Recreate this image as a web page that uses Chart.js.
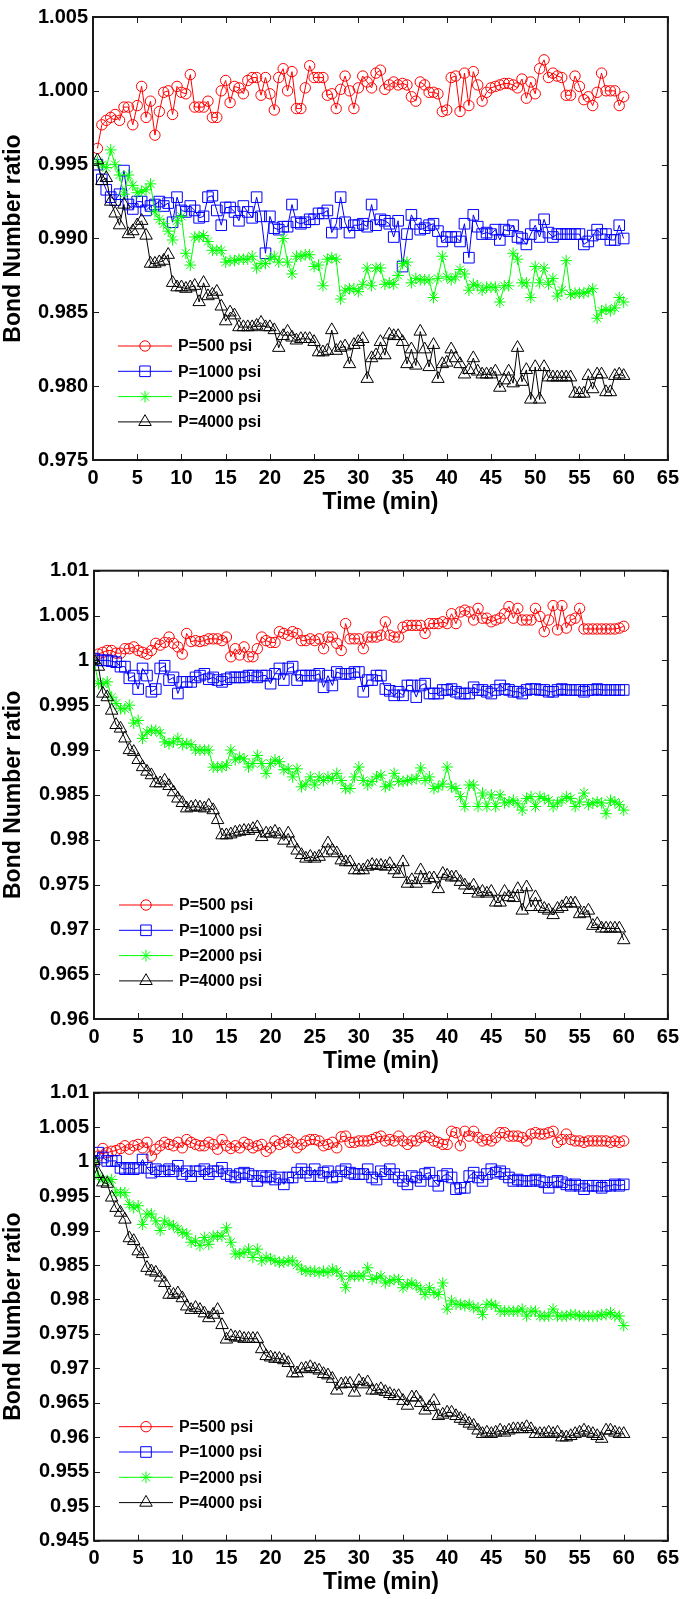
<!DOCTYPE html>
<html><head><meta charset="utf-8">
<script src="https://cdn.jsdelivr.net/npm/chart.js@4.4.1/dist/chart.umd.min.js"></script>
<style>
html,body{margin:0;padding:0;background:#fff;}
#wrap{position:relative;width:685px;height:1599px;overflow:hidden;}
canvas{position:absolute;left:0;}
</style></head><body>
<div id="wrap">
<canvas id="c1" width="685" height="520" style="top:0px"></canvas>
<canvas id="c2" width="685" height="557" style="top:518px"></canvas>
<canvas id="c3" width="685" height="524" style="top:1075px"></canvas>
</div>
<script>
// ---------- labels / ticks ----------
const SERIES_LABELS = ['P=500 psi', 'P=1000 psi', 'P=2000 psi', 'P=4000 psi'];
const X_TITLE = 'Time (min)';
const Y_TITLE = 'Bond Number ratio';
const X_TICKS = [0, 5, 10, 15, 20, 25, 30, 35, 40, 45, 50, 55, 60, 65];
const Y1_TICKS = [0.975, 0.980, 0.985, 0.990, 0.995, 1.000, 1.005];
const Y2_TICKS = [0.96, 0.965, 0.97, 0.975, 0.98, 0.985, 0.99, 0.995, 1.0, 1.005, 1.01];
const Y3_TICKS = [0.945, 0.95, 0.955, 0.96, 0.965, 0.97, 0.975, 0.98, 0.985, 0.99, 0.995, 1.0, 1.005, 1.01];

// ---------- time stamps (min) ----------
const TIME_1 = Array.from({length: 120}, (_, i) => 0.5 + i * 0.5); // 0.5 ... 60
const TIME_2 = Array.from({length: 121}, (_, i) => i * 0.5);       // 0 ... 60
const TIME_3 = TIME_2;

// ---------- panel 1 ----------
const P1_500 = [0.9961,0.9977,0.9980,0.9982,0.9984,0.9980,0.9989,0.9989,0.9977,0.9990,
1.0003,0.9982,0.9993,0.9970,0.9986,0.9999,1.0000,0.9984,1.0003,0.9999,
0.9998,1.0011,0.9989,0.9989,0.9989,0.9993,0.9982,0.9982,1.0000,1.0007,
0.9992,1.0003,1.0002,0.9998,1.0007,1.0009,1.0009,0.9997,1.0009,0.9998,
0.9987,1.0009,1.0015,1.0000,1.0013,0.9988,0.9988,1.0002,1.0017,1.0009,
1.0009,1.0009,0.9997,0.9998,0.9988,1.0001,1.0010,1.0000,0.9988,1.0002,
1.0010,1.0006,1.0002,1.0012,1.0014,1.0001,1.0004,1.0006,1.0004,1.0005,
1.0004,0.9996,0.9993,1.0006,1.0004,0.9999,0.9999,0.9998,0.9986,0.9987,
1.0009,1.0010,0.9986,1.0012,0.9990,1.0013,1.0004,0.9993,0.9999,1.0002,
1.0003,1.0004,1.0005,1.0005,1.0004,1.0002,1.0008,0.9995,1.0006,0.9998,
1.0015,1.0021,1.0009,1.0012,1.0010,1.0009,0.9997,0.9997,1.0010,1.0003,
0.9994,0.9996,0.9990,0.9999,1.0012,1.0000,1.0000,1.0000,0.9990,0.9996];
const P1_1000 = [0.9950,0.9940,0.9933,0.9928,0.9926,0.9930,0.9946,0.9923,0.9920,0.9925,
0.9925,0.9919,0.9922,0.9923,0.9925,0.9922,0.9924,0.9911,0.9928,0.9919,
0.9918,0.9922,0.9919,0.9914,0.9915,0.9928,0.9929,0.9919,0.9909,0.9921,
0.9921,0.9918,0.9912,0.9922,0.9918,0.9914,0.9928,0.9915,0.9890,0.9915,
0.9907,0.9906,0.9908,0.9908,0.9923,0.9911,0.9910,0.9911,0.9913,0.9913,
0.9917,0.9917,0.9919,0.9904,0.9910,0.9928,0.9911,0.9904,0.9909,0.9909,
0.9910,0.9908,0.9923,0.9909,0.9913,0.9912,0.9910,0.9901,0.9912,0.9881,
0.9903,0.9916,0.9910,0.9906,0.9907,0.9909,0.9910,0.9905,0.9898,0.9901,
0.9901,0.9901,0.9898,0.9910,0.9887,0.9916,0.9908,0.9903,0.9904,0.9903,
0.9906,0.9899,0.9906,0.9905,0.9909,0.9901,0.9900,0.9896,0.9903,0.9909,
0.9901,0.9913,0.9904,0.9901,0.9903,0.9903,0.9903,0.9903,0.9903,0.9903,
0.9896,0.9898,0.9902,0.9906,0.9903,0.9903,0.9899,0.9899,0.9909,0.9900];
const P1_2000 = [0.9952,0.9950,0.9948,0.9960,0.9950,0.9943,0.9930,0.9943,0.9936,0.9931,
0.9932,0.9933,0.9937,0.9918,0.9913,0.9910,0.9905,0.9899,0.9912,0.9915,
0.9890,0.9882,0.9901,0.9901,0.9902,0.9898,0.9892,0.9892,0.9892,0.9884,
0.9885,0.9885,0.9886,0.9886,0.9886,0.9888,0.9880,0.9883,0.9883,0.9886,
0.9888,0.9884,0.9900,0.9884,0.9876,0.9888,0.9888,0.9889,0.9889,0.9881,
0.9882,0.9868,0.9886,0.9887,0.9886,0.9859,0.9865,0.9866,0.9866,0.9864,
0.9869,0.9880,0.9868,0.9880,0.9880,0.9869,0.9870,0.9869,0.9875,0.9883,
0.9884,0.9870,0.9873,0.9872,0.9872,0.9872,0.9860,0.9873,0.9888,0.9874,
0.9872,0.9874,0.9879,0.9876,0.9865,0.9869,0.9868,0.9865,0.9867,0.9867,
0.9867,0.9857,0.9868,0.9868,0.9890,0.9886,0.9870,0.9870,0.9860,0.9881,
0.9870,0.9880,0.9869,0.9873,0.9861,0.9865,0.9885,0.9862,0.9863,0.9863,
0.9863,0.9864,0.9866,0.9846,0.9851,0.9852,0.9851,0.9853,0.9860,0.9857];
const P1_4000 = [0.9953,0.9939,0.9941,0.9925,0.9917,0.9909,0.9923,0.9903,0.9905,0.9909,
0.9912,0.9902,0.9883,0.9883,0.9884,0.9885,0.9889,0.9870,0.9867,0.9867,
0.9866,0.9867,0.9868,0.9857,0.9870,0.9861,0.9862,0.9864,0.9854,0.9844,
0.9850,0.9848,0.9840,0.9840,0.9840,0.9840,0.9841,0.9843,0.9840,0.9840,
0.9838,0.9826,0.9834,0.9837,0.9833,0.9831,0.9832,0.9832,0.9832,0.9830,
0.9823,0.9823,0.9824,0.9838,0.9824,0.9826,0.9827,0.9815,0.9828,0.9830,
0.9832,0.9805,0.9819,0.9821,0.9830,0.9821,0.9835,0.9834,0.9834,0.9830,
0.9815,0.9825,0.9814,0.9837,0.9825,0.9813,0.9828,0.9805,0.9815,0.9816,
0.9825,0.9819,0.9815,0.9808,0.9811,0.9819,0.9810,0.9808,0.9808,0.9808,
0.9810,0.9799,0.9804,0.9810,0.9802,0.9826,0.9803,0.9811,0.9791,0.9813,
0.9791,0.9813,0.9806,0.9806,0.9806,0.9806,0.9806,0.9806,0.9795,0.9795,
0.9795,0.9807,0.9798,0.9808,0.9808,0.9796,0.9796,0.9807,0.9808,0.9807];

// ---------- panel 2 ----------
const P2_500 = [1.0002,1.0007,1.0009,1.0011,1.0011,1.0008,1.0008,1.0013,1.0013,1.0015,
1.0011,1.0009,1.0007,1.0011,1.0019,1.0017,1.0020,1.0026,1.0019,1.0015,
1.0007,1.0030,1.0021,1.0022,1.0021,1.0022,1.0024,1.0024,1.0024,1.0022,
1.0026,1.0004,1.0013,1.0006,1.0015,1.0004,1.0004,1.0013,1.0026,1.0022,
1.0020,1.0020,1.0032,1.0030,1.0028,1.0032,1.0030,1.0022,1.0022,1.0024,
1.0022,1.0024,1.0013,1.0026,1.0026,1.0019,1.0011,1.0041,1.0024,1.0024,
1.0024,1.0013,1.0026,1.0026,1.0026,1.0028,1.0043,1.0028,1.0026,1.0026,
1.0037,1.0039,1.0039,1.0039,1.0039,1.0030,1.0041,1.0041,1.0041,1.0043,
1.0041,1.0052,1.0041,1.0054,1.0056,1.0054,1.0045,1.0058,1.0047,1.0047,
1.0043,1.0045,1.0047,1.0052,1.0060,1.0047,1.0058,1.0045,1.0045,1.0045,
1.0058,1.0049,1.0032,1.0045,1.0061,1.0034,1.0061,1.0036,1.0045,1.0047,
1.0058,1.0035,1.0035,1.0035,1.0035,1.0035,1.0035,1.0035,1.0035,1.0036,
1.0038];
const P2_1000 = [1.0002,1.0000,1.0000,1.0000,0.9999,0.9998,0.9993,0.9993,0.9980,0.9983,
0.9968,0.9991,0.9983,0.9965,0.9968,0.9991,0.9994,0.9978,0.9981,0.9963,
0.9976,0.9976,0.9976,0.9981,0.9983,0.9985,0.9979,0.9981,0.9978,0.9976,
0.9979,0.9981,0.9981,0.9981,0.9981,0.9983,0.9983,0.9981,0.9983,0.9983,
0.9974,0.9985,0.9991,0.9978,0.9991,0.9993,0.9978,0.9983,0.9983,0.9983,
0.9983,0.9985,0.9970,0.9983,0.9972,0.9987,0.9985,0.9985,0.9985,0.9987,
0.9987,0.9965,0.9978,0.9978,0.9983,0.9983,0.9968,0.9966,0.9961,0.9965,
0.9961,0.9972,0.9972,0.9959,0.9972,0.9974,0.9963,0.9963,0.9963,0.9967,
0.9967,0.9968,0.9965,0.9963,0.9963,0.9963,0.9970,0.9967,0.9967,0.9965,
0.9963,0.9967,0.9972,0.9968,0.9967,0.9965,0.9965,0.9963,0.9967,0.9968,
0.9968,0.9967,0.9967,0.9965,0.9965,0.9967,0.9968,0.9967,0.9967,0.9967,
0.9967,0.9965,0.9967,0.9967,0.9968,0.9967,0.9967,0.9967,0.9967,0.9967,
0.9967];
const P2_2000 = [1.0000,0.9974,0.9974,0.9976,0.9959,0.9952,0.9946,0.9946,0.9950,0.9930,
0.9933,0.9913,0.9920,0.9922,0.9922,0.9919,0.9909,0.9907,0.9909,0.9913,
0.9906,0.9907,0.9906,0.9900,0.9900,0.9900,0.9900,0.9881,0.9881,0.9881,
0.9883,0.9900,0.9889,0.9892,0.9890,0.9881,0.9885,0.9894,0.9885,0.9874,
0.9885,0.9889,0.9887,0.9878,0.9879,0.9870,0.9879,0.9859,0.9862,0.9870,
0.9861,0.9870,0.9866,0.9870,0.9868,0.9874,0.9866,0.9857,0.9857,0.9870,
0.9881,0.9866,0.9861,0.9865,0.9870,0.9872,0.9859,0.9861,0.9874,0.9865,
0.9865,0.9866,0.9867,0.9868,0.9880,0.9866,0.9870,0.9857,0.9859,0.9862,
0.9881,0.9859,0.9857,0.9848,0.9837,0.9861,0.9861,0.9837,0.9852,0.9837,
0.9850,0.9837,0.9850,0.9841,0.9842,0.9844,0.9840,0.9833,0.9846,0.9848,
0.9837,0.9848,0.9846,0.9844,0.9837,0.9841,0.9844,0.9848,0.9846,0.9837,
0.9842,0.9852,0.9839,0.9841,0.9842,0.9841,0.9829,0.9844,0.9842,0.9839,
0.9833];
const P2_4000 = [1.0000,0.9993,0.9963,0.9959,0.9944,0.9928,0.9924,0.9913,0.9900,0.9898,
0.9889,0.9881,0.9876,0.9872,0.9863,0.9863,0.9866,0.9860,0.9853,0.9846,
0.9841,0.9835,0.9836,0.9837,0.9836,0.9835,0.9838,0.9833,0.9822,0.9805,
0.9805,0.9806,0.9808,0.9809,0.9810,0.9810,0.9812,0.9814,0.9803,0.9807,
0.9807,0.9809,0.9806,0.9799,0.9807,0.9796,0.9788,0.9783,0.9779,0.9781,
0.9779,0.9781,0.9785,0.9796,0.9788,0.9785,0.9777,0.9775,0.9775,0.9766,
0.9766,0.9766,0.9770,0.9772,0.9771,0.9771,0.9770,0.9773,0.9766,0.9762,
0.9775,0.9751,0.9755,0.9751,0.9766,0.9755,0.9757,0.9757,0.9745,0.9762,
0.9760,0.9758,0.9758,0.9753,0.9749,0.9744,0.9749,0.9740,0.9742,0.9740,
0.9742,0.9730,0.9730,0.9742,0.9736,0.9735,0.9745,0.9721,0.9747,0.9725,
0.9736,0.9725,0.9723,0.9721,0.9716,0.9723,0.9725,0.9729,0.9729,0.9729,
0.9717,0.9718,0.9721,0.9704,0.9706,0.9701,0.9701,0.9701,0.9701,0.9701,
0.9688];

// ---------- panel 3 ----------
const P3_500 = [1.0001,1.0008,1.0019,1.0013,1.0015,1.0016,1.0019,1.0023,1.0018,1.0023,
1.0025,1.0020,1.0028,1.0008,1.0018,1.0023,1.0028,1.0025,1.0023,1.0028,
1.0020,1.0032,1.0028,1.0025,1.0023,1.0023,1.0028,1.0025,1.0018,1.0032,
1.0023,1.0019,1.0023,1.0020,1.0028,1.0025,1.0020,1.0023,1.0025,1.0015,
1.0020,1.0030,1.0025,1.0028,1.0032,1.0028,1.0020,1.0025,1.0030,1.0032,
1.0032,1.0030,1.0023,1.0025,1.0028,1.0020,1.0036,1.0037,1.0028,1.0028,
1.0030,1.0030,1.0030,1.0032,1.0035,1.0037,1.0030,1.0032,1.0030,1.0037,
1.0030,1.0025,1.0030,1.0030,1.0035,1.0037,1.0035,1.0030,1.0028,1.0025,
1.0025,1.0044,1.0042,1.0023,1.0044,1.0037,1.0044,1.0035,1.0030,1.0032,
1.0030,1.0035,1.0042,1.0042,1.0037,1.0037,1.0037,1.0035,1.0030,1.0040,
1.0042,1.0040,1.0040,1.0042,1.0044,1.0028,1.0032,1.0040,1.0032,1.0030,
1.0030,1.0028,1.0030,1.0030,1.0030,1.0030,1.0030,1.0028,1.0030,1.0028,
1.0030];
const P3_1000 = [1.0001,1.0013,1.0006,1.0001,1.0001,1.0001,0.9991,0.9989,0.9991,0.9989,
0.9991,1.0003,0.9991,0.9984,0.9989,0.9986,0.9986,0.9989,0.9986,0.9994,
0.9982,0.9986,0.9979,0.9986,0.9986,0.9989,0.9982,0.9986,0.9986,0.9991,
0.9982,0.9979,0.9977,0.9982,0.9984,0.9982,0.9979,0.9972,0.9979,0.9977,
0.9979,0.9974,0.9977,0.9967,0.9977,0.9977,0.9984,0.9989,0.9984,0.9979,
0.9989,0.9979,0.9984,0.9986,0.9977,0.9979,0.9986,0.9989,0.9984,0.9982,
0.9982,0.9982,0.9989,0.9977,0.9974,0.9986,0.9982,0.9989,0.9982,0.9977,
0.9972,0.9967,0.9979,0.9977,0.9972,0.9982,0.9984,0.9972,0.9965,0.9979,
0.9982,0.9977,0.9960,0.9962,0.9962,0.9979,0.9984,0.9977,0.9972,0.9982,
0.9989,0.9984,0.9986,0.9982,0.9977,0.9972,0.9974,0.9972,0.9972,0.9972,
0.9974,0.9972,0.9970,0.9962,0.9970,0.9972,0.9970,0.9967,0.9965,0.9967,
0.9965,0.9960,0.9965,0.9965,0.9965,0.9962,0.9965,0.9965,0.9967,0.9965,
0.9967];
const P3_2000 = [1.0001,0.9979,0.9974,0.9972,0.9974,0.9955,0.9955,0.9955,0.9938,0.9933,
0.9936,0.9909,0.9924,0.9924,0.9914,0.9900,0.9914,0.9909,0.9907,0.9902,
0.9897,0.9895,0.9883,0.9885,0.9878,0.9890,0.9880,0.9892,0.9892,0.9892,
0.9904,0.9883,0.9866,0.9866,0.9868,0.9873,0.9861,0.9873,0.9856,0.9861,
0.9859,0.9856,0.9854,0.9854,0.9856,0.9856,0.9850,0.9844,0.9841,0.9841,
0.9841,0.9839,0.9841,0.9839,0.9844,0.9841,0.9834,0.9817,0.9834,0.9834,
0.9834,0.9834,0.9846,0.9829,0.9831,0.9834,0.9824,0.9827,0.9829,0.9829,
0.9817,0.9822,0.9824,0.9820,0.9815,0.9807,0.9817,0.9810,0.9807,0.9824,
0.9786,0.9798,0.9793,0.9793,0.9791,0.9793,0.9788,0.9788,0.9778,0.9793,
0.9793,0.9791,0.9783,0.9783,0.9783,0.9783,0.9783,0.9786,0.9776,0.9783,
0.9783,0.9776,0.9776,0.9776,0.9786,0.9776,0.9776,0.9776,0.9778,0.9778,
0.9776,0.9776,0.9776,0.9776,0.9776,0.9778,0.9778,0.9781,0.9776,0.9776,
0.9762];
const P3_4000 = [1.0001,0.9982,0.9970,0.9968,0.9948,0.9933,0.9926,0.9916,0.9889,0.9885,
0.9870,0.9866,0.9846,0.9841,0.9839,0.9832,0.9824,0.9807,0.9807,0.9809,
0.9802,0.9790,0.9785,0.9788,0.9785,0.9780,0.9773,0.9778,0.9785,0.9763,
0.9742,0.9747,0.9745,0.9745,0.9743,0.9743,0.9743,0.9743,0.9728,0.9718,
0.9716,0.9714,0.9714,0.9712,0.9708,0.9693,0.9693,0.9699,0.9700,0.9702,
0.9699,0.9697,0.9692,0.9690,0.9685,0.9668,0.9677,0.9678,0.9678,0.9665,
0.9682,0.9677,0.9680,0.9668,0.9668,0.9670,0.9666,0.9663,0.9660,0.9660,
0.9653,0.9646,0.9658,0.9658,0.9650,0.9639,0.9644,0.9653,0.9631,0.9633,
0.9636,0.9636,0.9631,0.9627,0.9624,0.9620,0.9617,0.9610,0.9605,0.9607,
0.9605,0.9607,0.9610,0.9607,0.9610,0.9612,0.9612,0.9612,0.9615,0.9612,
0.9605,0.9605,0.9605,0.9607,0.9605,0.9607,0.9600,0.9600,0.9602,0.9605,
0.9607,0.9610,0.9607,0.9605,0.9602,0.9598,0.9610,0.9610,0.9607,0.9605,
0.9605];

// ---------- styling ----------
const FONT = 'Liberation Sans, Arial, Helvetica, sans-serif';
const STYLES = [
  {color: '#ff0000', pointStyle: 'circle',   radius: 5.2, order: 4},
  {color: '#0000ff', pointStyle: 'rect',     radius: 7.5, order: 3},
  {color: '#00ff00', pointStyle: 'star',     radius: 5.8, order: 2},
  {color: '#000000', pointStyle: 'triangle', radius: 7.2, order: 1}
];

const frameLegend = {
  id: 'frameLegend',
  afterDatasetsDraw(chart) {
    const {ctx, chartArea: a, scales: {x, y}} = chart;
    ctx.save();
    ctx.strokeStyle = '#1a1a1a';
    ctx.lineWidth = 1;
    const L = 6;
    ctx.beginPath();
    x.ticks.forEach(t => {
      const px = Math.round(x.getPixelForValue(t.value)) + 0.5;
      ctx.moveTo(px, a.bottom); ctx.lineTo(px, a.bottom - L);
      ctx.moveTo(px, a.top); ctx.lineTo(px, a.top + L);
    });
    y.ticks.forEach(t => {
      const py = Math.round(y.getPixelForValue(t.value)) + 0.5;
      ctx.moveTo(a.left, py); ctx.lineTo(a.left + L, py);
      ctx.moveTo(a.right, py); ctx.lineTo(a.right - L, py);
    });
    ctx.stroke();
    ctx.lineWidth = 2;
    ctx.strokeRect(a.left, a.top, a.right - a.left, a.bottom - a.top);
    // legend (inside the axes, lower-left)
    ctx.font = 'bold 16px ' + FONT;
    ctx.textBaseline = 'middle';
    ctx.textAlign = 'left';
    chart.data.datasets.forEach((ds, i) => {
      const yy = a.bottom - 114 + 25.3 * i;
      ctx.strokeStyle = ds.borderColor;
      ctx.lineWidth = 1;
      ctx.beginPath();
      ctx.moveTo(a.left + 25, yy); ctx.lineTo(a.left + 79, yy);
      ctx.stroke();
      ctx.fillStyle = 'rgba(0,0,0,0)';
      Chart.helpers.drawPoint(ctx, {pointStyle: ds.pointStyle, radius: ds.pointRadius, borderWidth: 1, rotation: 0}, a.left + 52, yy);
      ctx.fillStyle = '#000';
      ctx.fillText(ds.label, a.left + 85, yy + 1);
    });
    ctx.restore();
  }
};

function fmtTrim(v) { return String(parseFloat(Number(v).toFixed(3))); }
function fmtFixed(v) { return Number(v).toFixed(3); }

function makeChart(id, times, series, yTicks, yFmt, g) {
  const datasets = series.map((vals, i) => ({
    label: SERIES_LABELS[i],
    data: times.map((t, k) => ({x: t, y: vals[k]})),
    borderColor: STYLES[i].color,
    backgroundColor: 'rgba(0,0,0,0)',
    borderWidth: 1,
    pointStyle: STYLES[i].pointStyle,
    pointRadius: STYLES[i].radius,
    pointBorderWidth: 1,
    pointBorderColor: STYLES[i].color,
    pointBackgroundColor: 'rgba(0,0,0,0)',
    tension: 0,
    order: STYLES[i].order
  }));
  return new Chart(document.getElementById(id), {
    type: 'line',
    data: {datasets},
    options: {
      responsive: false, animation: false, devicePixelRatio: 1,
      layout: {padding: {left: 0, right: 13, top: g.top, bottom: g.bottom}},
      plugins: {legend: {display: false}, tooltip: {enabled: false}},
      scales: {
        x: {
          type: 'linear', min: 0, max: 65,
          afterBuildTicks: s => { s.ticks = X_TICKS.map(v => ({value: v})); },
          afterFit: s => { s.height = 56; },
          grid: {display: false, drawTicks: false},
          border: {display: false},
          ticks: {color: '#000', font: {family: FONT, size: 20, weight: 'bold'}, padding: 6,
                  maxRotation: 0, autoSkip: false, callback: v => String(v)},
          title: {display: true, text: X_TITLE, color: '#000', padding: 0,
                  font: {family: FONT, size: 23, weight: 'bold'}}
        },
        y: {
          type: 'linear', min: yTicks[0], max: yTicks[yTicks.length - 1],
          afterBuildTicks: s => { s.ticks = yTicks.map(v => ({value: v})); },
          afterFit: s => { s.width = g.yw; },
          grid: {display: false, drawTicks: false},
          border: {display: false},
          ticks: {color: '#000', font: {family: FONT, size: 20, weight: 'bold'}, padding: 5,
                  autoSkip: false, callback: v => yFmt(v)},
          title: {display: true, text: Y_TITLE, color: '#000', padding: 0,
                  font: {family: FONT, size: 23, weight: 'bold'}}
        }
      }
    },
    plugins: [frameLegend]
  });
}

makeChart('c1', TIME_1, [P1_500, P1_1000, P1_2000, P1_4000], Y1_TICKS, fmtFixed, {top: 11, bottom: 4, yw: 93});
makeChart('c2', TIME_2, [P2_500, P2_1000, P2_2000, P2_4000], Y2_TICKS, fmtTrim, {top: 52.7, bottom: 0, yw: 94});
makeChart('c3', TIME_3, [P3_500, P3_1000, P3_2000, P3_4000], Y3_TICKS, fmtTrim, {top: 17.7, bottom: 2.3, yw: 94});
</script>
</body></html>
